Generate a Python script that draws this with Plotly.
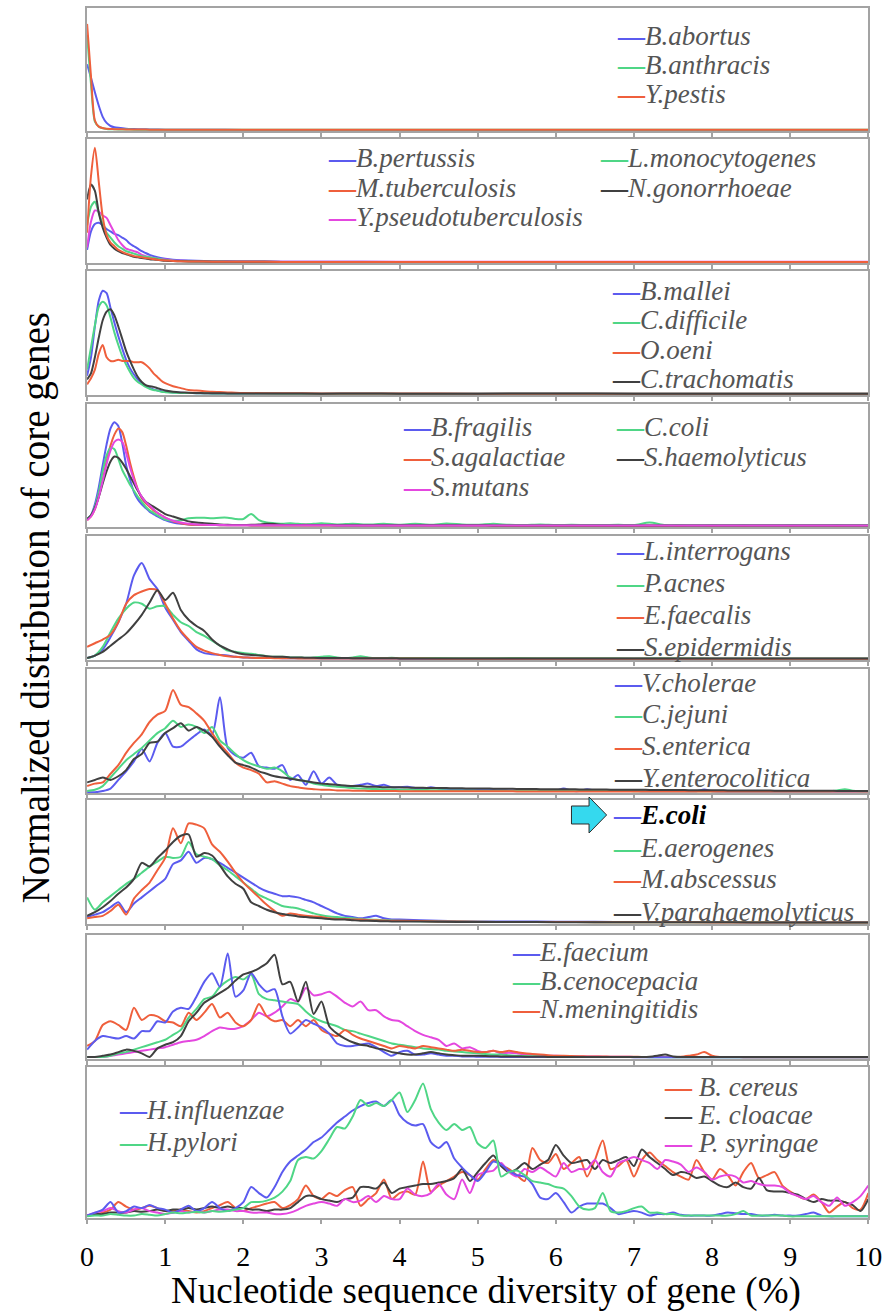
import plotly.graph_objects as go

# ---------------------------------------------------------------- data ----
# x grids (nucleotide sequence diversity, %)
X_P1 = [0, 0.05, 0.1, 0.15, 0.2, 0.25, 0.3, 0.35, 0.4, 0.5, 0.6, 0.7, 0.8, 1.0, 1.5,
        2, 3, 4, 5, 6, 7, 8, 9, 10]
X_P2 = [0, 0.05, 0.1, 0.15, 0.2, 0.25, 0.3, 0.35, 0.4, 0.45, 0.5, 0.55, 0.6, 0.65, 0.7,
        0.75, 0.8, 0.9, 1.0, 1.1, 1.2, 1.4, 1.6, 1.8, 2, 2.5, 3, 4, 5, 6, 7, 8, 9, 10]
X_P3 = [0, 0.05, 0.1, 0.15, 0.2, 0.25, 0.3, 0.35, 0.4, 0.45, 0.5, 0.55, 0.6, 0.65, 0.7,
        0.75, 0.8, 0.85, 0.9, 0.95, 1.0, 1.1, 1.2, 1.3, 1.4, 1.5, 1.6, 1.7, 1.8, 1.9,
        2.0, 2.5, 3, 3.5, 4, 5, 6, 7, 8, 9, 10]
X_P4 = ([round(0.05 * i, 2) for i in range(21)] + [round(1.0 + 0.1 * i, 1) for i in range(1, 21)]
        + [round(3.0 + 0.2 * i, 1) for i in range(1, 36)])
X_P5 = [round(0.1 * i, 1) for i in range(41)] + [4.5, 5.0, 5.5, 6.0, 6.5, 7.0, 7.5, 8.0,
                                                 8.5, 9.0, 9.25, 9.5, 10.0]
X_FULL = [round(0.1 * i, 1) for i in range(101)]

# panel 1
B_ABORTUS = [0.54, 0.43, 0.31, 0.20, 0.11, 0.06, 0.035, 0.025, 0.02, 0.013, 0.01, 0.008, 0.007,
             0.005, 0.004, 0.003, 0.003, 0.003, 0.003, 0.003, 0.003, 0.003, 0.003, 0.003]
B_ANTHRACIS = [0.78, 0.38, 0.07, 0.03, 0.016, 0.011, 0.009, 0.008, 0.007, 0.006, 0.005, 0.005,
               0.004, 0.004, 0.004, 0.004, 0.004, 0.004, 0.004, 0.004, 0.004, 0.004, 0.004, 0.004]
Y_PESTIS = [0.87, 0.44, 0.08, 0.03, 0.018, 0.012, 0.01, 0.009, 0.008, 0.007, 0.006, 0.006,
            0.005, 0.005, 0.005, 0.005, 0.005, 0.005, 0.005, 0.005, 0.005, 0.005, 0.005, 0.005]

# panel 2
B_PERTUSSIS = [0.10, 0.25, 0.31, 0.32, 0.30, 0.27, 0.25, 0.23, 0.22, 0.20, 0.18, 0.15, 0.13,
               0.11, 0.09, 0.075, 0.06, 0.04, 0.028, 0.02, 0.016, 0.012, 0.01, 0.008, 0.006,
               0.005, 0.004, 0.003, 0.003, 0.003, 0.003, 0.003, 0.003, 0.003]
M_TUBERCULOSIS = [0.24, 0.70, 0.93, 0.65, 0.37, 0.22, 0.16, 0.13, 0.10, 0.085, 0.07, 0.06, 0.05,
                  0.045, 0.04, 0.035, 0.03, 0.02, 0.015, 0.01, 0.008, 0.006, 0.005, 0.004, 0.004,
                  0.003, 0.003, 0.003, 0.003, 0.003, 0.003, 0.003, 0.003, 0.003]
Y_PSEUDOTUBERCULOSIS = [0.12, 0.33, 0.42, 0.41, 0.38, 0.36, 0.30, 0.24, 0.18, 0.14, 0.11, 0.10,
                        0.09, 0.08, 0.06, 0.05, 0.04, 0.03, 0.022, 0.015, 0.012, 0.01, 0.008,
                        0.007, 0.006, 0.005, 0.005, 0.005, 0.005, 0.005, 0.005, 0.005, 0.005, 0.005]
L_MONOCYTOGENES = [0.30, 0.45, 0.49, 0.40, 0.31, 0.24, 0.20, 0.16, 0.13, 0.11, 0.09, 0.08, 0.07,
                   0.06, 0.05, 0.045, 0.04, 0.03, 0.018, 0.012, 0.01, 0.007, 0.006, 0.005, 0.004,
                   0.003, 0.003, 0.003, 0.003, 0.003, 0.003, 0.003, 0.003, 0.003]
N_GONORRHOEAE = [0.51, 0.63, 0.58, 0.40, 0.28, 0.20, 0.14, 0.11, 0.09, 0.075, 0.065, 0.055, 0.045,
                 0.04, 0.035, 0.03, 0.025, 0.02, 0.012, 0.01, 0.008, 0.006, 0.005, 0.004, 0.004,
                 0.003, 0.003, 0.003, 0.003, 0.003, 0.003, 0.003, 0.003, 0.003]

# panel 3
B_MALLEI = [0.15, 0.30, 0.55, 0.76, 0.84, 0.82, 0.70, 0.58, 0.47, 0.37, 0.28, 0.21, 0.16, 0.12,
            0.09, 0.07, 0.05, 0.04, 0.03, 0.025, 0.02,
            0.015, 0.012, 0.01, 0.009, 0.008, 0.007, 0.007, 0.006, 0.006, 0.006,
            0.005, 0.005, 0.005, 0.005, 0.004, 0.004, 0.004, 0.004, 0.004, 0.004]
C_DIFFICILE = [0.20, 0.38, 0.56, 0.71, 0.75, 0.72, 0.62, 0.50, 0.40, 0.31, 0.24, 0.18, 0.13, 0.10,
               0.08, 0.06, 0.045, 0.035, 0.03, 0.02, 0.017,
               0.013, 0.011, 0.01, 0.009, 0.008, 0.007, 0.007, 0.006, 0.006, 0.006,
               0.005, 0.005, 0.005, 0.005, 0.004, 0.004, 0.004, 0.004, 0.004, 0.004]
O_OENI = [0.08, 0.13, 0.20, 0.33, 0.40, 0.30, 0.27, 0.27, 0.28, 0.27, 0.27, 0.27, 0.26, 0.26,
          0.26, 0.24, 0.21, 0.17, 0.14, 0.11, 0.09,
          0.065, 0.05, 0.035, 0.03, 0.025, 0.02, 0.018, 0.015, 0.012, 0.01,
          0.008, 0.007, 0.006, 0.006, 0.005, 0.005, 0.005, 0.005, 0.005, 0.005]
C_TRACHOMATIS = [0.12, 0.17, 0.30, 0.46, 0.60, 0.67, 0.69, 0.64, 0.55, 0.45, 0.35, 0.27, 0.20,
                 0.14, 0.10, 0.075, 0.065, 0.06, 0.05, 0.04, 0.03,
                 0.02, 0.015, 0.012, 0.01, 0.009, 0.008, 0.008, 0.007, 0.007, 0.006,
                 0.006, 0.005, 0.006, 0.005, 0.005, 0.006, 0.005, 0.005, 0.005, 0.005]

# panel 4
B_FRAGILIS = [0.06, 0.09, 0.18, 0.32, 0.50, 0.67, 0.80, 0.85, 0.82, 0.68, 0.50, 0.38, 0.28, 0.22,
              0.18, 0.15, 0.12, 0.10, 0.08, 0.065, 0.05,
              0.03, 0.02, 0.015, 0.012, 0.01, 0.01, 0.009, 0.008, 0.008, 0.008,
              0.007, 0.007, 0.007, 0.007, 0.007, 0.007, 0.006, 0.006, 0.006, 0.006,
              0.006, 0.006, 0.006, 0.006, 0.006, 0.006, 0.006, 0.006, 0.006, 0.006,
              0.005, 0.005, 0.005, 0.005, 0.005, 0.005, 0.005, 0.005, 0.005, 0.005,
              0.005, 0.005, 0.005, 0.005, 0.005, 0.005, 0.005, 0.005, 0.005, 0.005,
              0.005, 0.005, 0.005, 0.005, 0.005]
S_AGALACTIAE = [0.05, 0.08, 0.14, 0.25, 0.38, 0.53, 0.66, 0.75, 0.80, 0.77, 0.66, 0.52, 0.40,
                0.30, 0.23, 0.19, 0.16, 0.13, 0.11, 0.09, 0.07,
                0.04, 0.025, 0.015, 0.012, 0.01, 0.01, 0.009, 0.008, 0.008, 0.008,
                0.007, 0.007, 0.007, 0.007, 0.007, 0.007, 0.006, 0.006, 0.006, 0.006,
                0.006, 0.006, 0.006, 0.006, 0.006, 0.006, 0.006, 0.006, 0.006, 0.006,
                0.005, 0.005, 0.005, 0.005, 0.005, 0.005, 0.005, 0.005, 0.005, 0.005,
                0.005, 0.005, 0.005, 0.005, 0.005, 0.005, 0.005, 0.005, 0.005, 0.005,
                0.005, 0.005, 0.005, 0.005, 0.005]
S_MUTANS = [0.05, 0.08, 0.14, 0.24, 0.37, 0.51, 0.62, 0.69, 0.71, 0.69, 0.60, 0.48, 0.38, 0.30,
            0.24, 0.20, 0.17, 0.14, 0.11, 0.09, 0.07,
            0.045, 0.03, 0.02, 0.015, 0.012, 0.01, 0.01, 0.009, 0.009, 0.008,
            0.008, 0.008, 0.008, 0.008, 0.008, 0.008, 0.008, 0.008, 0.008, 0.008,
            0.007, 0.007, 0.007, 0.007, 0.007, 0.007, 0.007, 0.007, 0.007, 0.007,
            0.007, 0.007, 0.007, 0.007, 0.007, 0.007, 0.007, 0.007, 0.007, 0.007,
            0.007, 0.007, 0.007, 0.007, 0.007, 0.007, 0.007, 0.007, 0.007, 0.007,
            0.007, 0.007, 0.007, 0.007, 0.007]
C_COLI = [0.06, 0.09, 0.16, 0.28, 0.45, 0.58, 0.64, 0.63, 0.55, 0.46, 0.40, 0.34, 0.29, 0.24,
          0.20, 0.16, 0.13, 0.11, 0.09, 0.07, 0.055,
          0.045, 0.05, 0.065, 0.07, 0.07, 0.065, 0.07, 0.07, 0.06, 0.06,
          0.10, 0.05, 0.03, 0.025, 0.02, 0.025, 0.02, 0.015, 0.02, 0.025,
          0.015, 0.02, 0.015, 0.02, 0.012, 0.02, 0.012, 0.022, 0.015, 0.012,
          0.02, 0.012, 0.01, 0.015, 0.01, 0.012, 0.01, 0.01, 0.012, 0.01,
          0.03, 0.01, 0.01, 0.008, 0.01, 0.008, 0.01, 0.008, 0.008, 0.01,
          0.008, 0.008, 0.01, 0.008, 0.008]
S_HAEMOLYTICUS = [0.06, 0.09, 0.15, 0.24, 0.35, 0.45, 0.53, 0.57, 0.56, 0.52, 0.47, 0.41, 0.35,
                  0.29, 0.24, 0.20, 0.18, 0.16, 0.14, 0.12, 0.10,
                  0.08, 0.06, 0.04, 0.03, 0.025, 0.02, 0.015, 0.012, 0.01, 0.01,
                  0.012, 0.015, 0.02, 0.018, 0.012, 0.01, 0.01, 0.012, 0.01, 0.01,
                  0.009, 0.009, 0.009, 0.008, 0.008, 0.008, 0.008, 0.008, 0.008, 0.008,
                  0.007, 0.007, 0.007, 0.007, 0.007, 0.007, 0.007, 0.007, 0.007, 0.007,
                  0.006, 0.006, 0.006, 0.006, 0.006, 0.006, 0.006, 0.006, 0.006, 0.006,
                  0.006, 0.006, 0.006, 0.006, 0.006]

# panel 5 (0 .. 4 in steps of 0.1, then 4.5 .. 10)
L_INTERROGANS = [0.01, 0.03, 0.08, 0.18, 0.30, 0.45, 0.68, 0.78, 0.65, 0.57,
                 0.42, 0.32, 0.22, 0.15, 0.08, 0.05, 0.04, 0.035, 0.03, 0.02,
                 0.015, 0.012, 0.01, 0.01, 0.01, 0.009, 0.009, 0.008, 0.008, 0.008,
                 0.007, 0.007, 0.007, 0.007, 0.006, 0.006, 0.006, 0.006, 0.006, 0.006,
                 0.005,
                 0.005, 0.005, 0.005, 0.005, 0.005, 0.005, 0.005, 0.005, 0.005, 0.005, 0.005, 0.005,
                 0.005]
P_ACNES = [0.01, 0.03, 0.10, 0.22, 0.33, 0.41, 0.46, 0.45, 0.41, 0.43,
           0.43, 0.36, 0.30, 0.27, 0.22, 0.19, 0.15, 0.11, 0.07, 0.06,
           0.05, 0.045, 0.035, 0.025, 0.02, 0.02, 0.015, 0.015, 0.012, 0.015,
           0.02, 0.025, 0.015, 0.01, 0.015, 0.025, 0.015, 0.01, 0.01, 0.012,
           0.01,
           0.01, 0.008, 0.01, 0.008, 0.008, 0.007, 0.008, 0.007, 0.007, 0.006, 0.006, 0.006,
           0.006]
E_FAECALIS = [0.10, 0.13, 0.16, 0.20, 0.30, 0.45, 0.52, 0.55, 0.57, 0.56,
              0.45, 0.33, 0.23, 0.16, 0.10, 0.07, 0.05, 0.035, 0.025, 0.02,
              0.015, 0.012, 0.01, 0.01, 0.009, 0.008, 0.008, 0.007, 0.007, 0.007,
              0.006, 0.006, 0.006, 0.006, 0.006, 0.006, 0.006, 0.006, 0.006, 0.006,
              0.006,
              0.005, 0.005, 0.005, 0.005, 0.005, 0.005, 0.005, 0.005, 0.005, 0.005, 0.005, 0.005,
              0.005]
S_EPIDERMIDIS = [0.01, 0.03, 0.06, 0.11, 0.16, 0.21, 0.28, 0.36, 0.46, 0.56,
                 0.48, 0.54, 0.40, 0.32, 0.27, 0.23, 0.16, 0.11, 0.08, 0.055,
                 0.04, 0.035, 0.03, 0.025, 0.02, 0.02, 0.015, 0.015, 0.012, 0.012,
                 0.01, 0.01, 0.01, 0.01, 0.009, 0.009, 0.008, 0.008, 0.008, 0.008,
                 0.007,
                 0.007, 0.007, 0.006, 0.006, 0.006, 0.006, 0.006, 0.006, 0.006, 0.006, 0.006, 0.006,
                 0.006]

# panel 6 (0 .. 10 in steps of 0.1)
V_CHOLERAE = [0.0, 0.0, 0.01, 0.03, 0.10, 0.17, 0.25, 0.35, 0.25, 0.40,
              0.48, 0.37, 0.37, 0.42, 0.47, 0.51, 0.47, 0.77, 0.36, 0.30,
              0.28, 0.32, 0.21, 0.20, 0.19, 0.22, 0.10, 0.14, 0.06, 0.17,
              0.07, 0.12, 0.06, 0.05, 0.05, 0.06, 0.07, 0.05, 0.06, 0.04,
              0.04, 0.045, 0.035, 0.03, 0.04, 0.03, 0.025, 0.025, 0.02, 0.02,
              0.02, 0.018, 0.018, 0.016, 0.015, 0.015, 0.015, 0.014, 0.013, 0.013,
              0.012, 0.03, 0.012, 0.01, 0.025, 0.012, 0.01, 0.01, 0.01, 0.01,
              0.01, 0.009, 0.009, 0.009, 0.009, 0.008, 0.008, 0.008, 0.008, 0.022,
              0.008, 0.007, 0.007, 0.007, 0.007, 0.007, 0.007, 0.006, 0.006, 0.006,
              0.006, 0.006, 0.006, 0.006, 0.006, 0.006, 0.006, 0.006, 0.006, 0.006,
              0.006]
C_JEJUNI = [0.01, 0.02, 0.05, 0.12, 0.19, 0.26, 0.31, 0.36, 0.42, 0.48,
            0.52, 0.58, 0.53, 0.55, 0.53, 0.48, 0.53, 0.42, 0.37, 0.31,
            0.26, 0.23, 0.21, 0.19, 0.20, 0.17, 0.12, 0.10, 0.09, 0.07,
            0.06, 0.05, 0.045, 0.04, 0.035, 0.03, 0.028, 0.026, 0.024, 0.022,
            0.02, 0.02, 0.019, 0.018, 0.017, 0.016, 0.015, 0.015, 0.014, 0.014,
            0.013, 0.013, 0.012, 0.012, 0.011, 0.011, 0.01, 0.01, 0.01, 0.01,
            0.01, 0.01, 0.01, 0.01, 0.01, 0.01, 0.01, 0.01, 0.01, 0.01,
            0.009, 0.009, 0.009, 0.009, 0.009, 0.009, 0.009, 0.009, 0.009, 0.009,
            0.009, 0.009, 0.009, 0.009, 0.009, 0.009, 0.009, 0.009, 0.009, 0.009,
            0.008, 0.008, 0.008, 0.008, 0.008, 0.008, 0.015, 0.025, 0.012, 0.008,
            0.008]
S_ENTERICA = [0.05, 0.07, 0.08, 0.15, 0.22, 0.32, 0.40, 0.47, 0.57, 0.63,
              0.66, 0.83, 0.71, 0.69, 0.64, 0.58, 0.48, 0.39, 0.32, 0.24,
              0.20, 0.18, 0.15, 0.08, 0.09, 0.07, 0.05, 0.04, 0.03, 0.025,
              0.02, 0.02, 0.015, 0.014, 0.013, 0.012, 0.011, 0.01, 0.01, 0.01,
              0.009, 0.009, 0.009, 0.009, 0.009, 0.008, 0.008, 0.008, 0.008, 0.008,
              0.008, 0.008, 0.008, 0.008, 0.008, 0.007, 0.007, 0.007, 0.007, 0.007,
              0.007, 0.007, 0.007, 0.007, 0.007, 0.007, 0.007, 0.007, 0.007, 0.007,
              0.006, 0.006, 0.006, 0.006, 0.006, 0.006, 0.006, 0.006, 0.006, 0.006,
              0.006, 0.006, 0.006, 0.006, 0.006, 0.006, 0.006, 0.006, 0.006, 0.006,
              0.006, 0.006, 0.006, 0.006, 0.006, 0.006, 0.006, 0.006, 0.006, 0.006,
              0.006]
Y_ENTEROCOLITICA = [0.08, 0.10, 0.12, 0.10, 0.13, 0.18, 0.27, 0.31, 0.40, 0.41,
                    0.48, 0.52, 0.56, 0.50, 0.53, 0.50, 0.45, 0.37, 0.30, 0.24,
                    0.22, 0.20, 0.17, 0.15, 0.13, 0.12, 0.11, 0.10, 0.09, 0.08,
                    0.07, 0.065, 0.06, 0.055, 0.05, 0.05, 0.045, 0.045, 0.04, 0.04,
                    0.04, 0.038, 0.037, 0.036, 0.035, 0.035, 0.034, 0.033, 0.032, 0.031,
                    0.03, 0.03, 0.029, 0.028, 0.028, 0.027, 0.026, 0.026, 0.025, 0.025,
                    0.025, 0.024, 0.024, 0.023, 0.023, 0.022, 0.022, 0.021, 0.021, 0.02,
                    0.02, 0.02, 0.019, 0.019, 0.018, 0.018, 0.018, 0.017, 0.017, 0.016,
                    0.016, 0.016, 0.015, 0.015, 0.015, 0.014, 0.014, 0.014, 0.013, 0.013,
                    0.013, 0.013, 0.012, 0.012, 0.012, 0.012, 0.011, 0.011, 0.011, 0.011,
                    0.01]

# panel 7 (0 .. 4 in steps of 0.1, then 4.5 .. 10)
E_COLI = [0.05, 0.07, 0.09, 0.13, 0.17, 0.09, 0.16, 0.21, 0.26, 0.31,
          0.36, 0.48, 0.51, 0.58, 0.49, 0.53, 0.52, 0.49, 0.45, 0.41,
          0.37, 0.33, 0.29, 0.26, 0.24, 0.22, 0.22, 0.21, 0.19, 0.17,
          0.14, 0.11, 0.08, 0.06, 0.05, 0.04, 0.05, 0.06, 0.04, 0.03,
          0.03,
          0.02, 0.015, 0.015, 0.012, 0.012, 0.01, 0.01, 0.01, 0.009, 0.009, 0.008, 0.008,
          0.008]
E_AEROGENES = [0.21, 0.11, 0.17, 0.22, 0.27, 0.32, 0.36, 0.41, 0.46, 0.50,
               0.54, 0.53, 0.54, 0.66, 0.56, 0.54, 0.52, 0.47, 0.43, 0.38,
               0.33, 0.28, 0.23, 0.20, 0.17, 0.14, 0.13, 0.12, 0.10, 0.08,
               0.065, 0.055, 0.05, 0.045, 0.04, 0.035, 0.03, 0.028, 0.025, 0.022,
               0.02,
               0.015, 0.012, 0.01, 0.01, 0.009, 0.009, 0.008, 0.008, 0.008, 0.007, 0.007, 0.007,
               0.007]
M_ABSCESSUS = [0.04, 0.05, 0.06, 0.10, 0.15, 0.07, 0.20, 0.27, 0.33, 0.43,
               0.53, 0.77, 0.65, 0.81, 0.80, 0.77, 0.64, 0.58, 0.50, 0.41,
               0.33, 0.27, 0.21, 0.15, 0.10, 0.06, 0.08, 0.07, 0.06, 0.055,
               0.05, 0.04, 0.035, 0.035, 0.03, 0.03, 0.025, 0.025, 0.022, 0.02,
               0.02,
               0.015, 0.012, 0.01, 0.01, 0.009, 0.008, 0.008, 0.007, 0.007, 0.006, 0.006, 0.006,
               0.006]
V_PARAHAEMOLYTICUS = [0.06, 0.09, 0.13, 0.18, 0.24, 0.29, 0.36, 0.49, 0.46, 0.53,
                      0.59, 0.66, 0.71, 0.72, 0.54, 0.57, 0.55, 0.47, 0.38, 0.32,
                      0.28, 0.17, 0.14, 0.11, 0.09, 0.075, 0.065, 0.055, 0.05, 0.045,
                      0.04, 0.035, 0.03, 0.03, 0.025, 0.02, 0.02, 0.018, 0.016, 0.015,
                      0.015,
                      0.012, 0.01, 0.01, 0.009, 0.009, 0.008, 0.008, 0.008, 0.007, 0.007, 0.007,
                      0.007, 0.007]

# panel 8 (0 .. 10 in steps of 0.1)
E_FAECIUM = [0.07, 0.14, 0.18, 0.17, 0.16, 0.18, 0.16, 0.22, 0.22, 0.30,
             0.29, 0.38, 0.41, 0.40, 0.50, 0.62, 0.69, 0.58, 0.85, 0.50,
             0.55, 0.69, 0.60, 0.54, 0.56, 0.34, 0.20, 0.25, 0.31, 0.28,
             0.25, 0.20, 0.12, 0.10, 0.10, 0.11, 0.12, 0.09, 0.05, 0.02,
             0.05, 0.06, 0.03, 0.03, 0.04, 0.03, 0.02, 0.02, 0.015, 0.015,
             0.012, 0.012, 0.012, 0.011, 0.011, 0.011, 0.01, 0.01, 0.01, 0.01,
             0.01, 0.01, 0.01, 0.01, 0.01, 0.01, 0.01, 0.01, 0.01, 0.01,
             0.009, 0.009, 0.009, 0.009, 0.009, 0.009, 0.009, 0.009, 0.009, 0.009,
             0.008, 0.008, 0.008, 0.008, 0.008, 0.008, 0.008, 0.008, 0.008, 0.008,
             0.008, 0.008, 0.008, 0.008, 0.008, 0.008, 0.008, 0.008, 0.008, 0.008,
             0.008]
B_CENOCEPACIA = [0.01, 0.01, 0.01, 0.02, 0.04, 0.05, 0.07, 0.09, 0.11, 0.13,
                 0.15, 0.19, 0.23, 0.33, 0.40, 0.48, 0.50, 0.58, 0.63, 0.66,
                 0.64, 0.68, 0.52, 0.48, 0.47, 0.46, 0.45, 0.44, 0.38, 0.33,
                 0.30, 0.28, 0.26, 0.23, 0.22, 0.20, 0.18, 0.16, 0.14, 0.12,
                 0.11, 0.10, 0.09, 0.08, 0.075, 0.07, 0.06, 0.055, 0.05, 0.045,
                 0.04, 0.035, 0.03, 0.03, 0.025, 0.02, 0.018, 0.016, 0.015, 0.014,
                 0.012, 0.012, 0.012, 0.011, 0.011, 0.011, 0.01, 0.01, 0.01, 0.01,
                 0.01, 0.01, 0.009, 0.009, 0.009, 0.009, 0.009, 0.009, 0.009, 0.009,
                 0.009, 0.009, 0.008, 0.008, 0.008, 0.008, 0.008, 0.008, 0.008, 0.008,
                 0.008, 0.008, 0.008, 0.008, 0.008, 0.008, 0.008, 0.008, 0.008, 0.008,
                 0.008]
N_MENINGITIDIS = [0.10, 0.14, 0.27, 0.30, 0.27, 0.23, 0.41, 0.31, 0.35, 0.34,
                  0.30, 0.29, 0.26, 0.37, 0.31, 0.37, 0.44, 0.33, 0.37, 0.29,
                  0.26, 0.31, 0.44, 0.34, 0.30, 0.31, 0.26, 0.31, 0.26, 0.31,
                  0.23, 0.20, 0.18, 0.23, 0.19, 0.16, 0.14, 0.12, 0.10, 0.08,
                  0.10, 0.09, 0.08, 0.10, 0.09, 0.08, 0.07, 0.06, 0.07, 0.06,
                  0.05, 0.05, 0.06, 0.05, 0.06, 0.05, 0.04, 0.035, 0.03, 0.025,
                  0.02, 0.02, 0.018, 0.016, 0.015, 0.015, 0.014, 0.013, 0.012, 0.012,
                  0.012, 0.011, 0.011, 0.01, 0.01, 0.01, 0.012, 0.02, 0.03, 0.05,
                  0.02, 0.01, 0.01, 0.01, 0.009, 0.009, 0.009, 0.008, 0.008, 0.008,
                  0.008, 0.008, 0.008, 0.008, 0.008, 0.008, 0.008, 0.008, 0.008, 0.008,
                  0.008]
P8_EXTRA_BLACK = [0.01, 0.01, 0.02, 0.03, 0.05, 0.07, 0.06, 0.04, 0.01, 0.08,
                  0.11, 0.13, 0.18, 0.30, 0.37, 0.45, 0.49, 0.53, 0.57, 0.63,
                  0.68, 0.70, 0.73, 0.77, 0.84, 0.60, 0.62, 0.46, 0.62, 0.36,
                  0.46, 0.26, 0.20, 0.16, 0.13, 0.11, 0.10, 0.08, 0.07, 0.05,
                  0.04, 0.03, 0.03, 0.04, 0.05, 0.04, 0.03, 0.025, 0.02, 0.02,
                  0.02, 0.018, 0.016, 0.015, 0.015, 0.014, 0.013, 0.012, 0.012, 0.011,
                  0.011, 0.01, 0.01, 0.01, 0.01, 0.01, 0.01, 0.01, 0.01, 0.01,
                  0.01, 0.01, 0.012, 0.02, 0.03, 0.015, 0.01, 0.01, 0.01, 0.01,
                  0.01, 0.01, 0.01, 0.01, 0.01, 0.01, 0.01, 0.01, 0.01, 0.01,
                  0.01, 0.01, 0.01, 0.01, 0.01, 0.01, 0.01, 0.01, 0.01, 0.01,
                  0.01]
P8_EXTRA_MAGENTA = [0.01, 0.01, 0.01, 0.02, 0.03, 0.04, 0.05, 0.06, 0.07, 0.08,
                    0.09, 0.11, 0.13, 0.14, 0.15, 0.18, 0.22, 0.25, 0.24, 0.24,
                    0.26, 0.31, 0.37, 0.34, 0.37, 0.42, 0.48, 0.46, 0.57, 0.51,
                    0.52, 0.54, 0.50, 0.45, 0.42, 0.46, 0.39, 0.39, 0.34, 0.31,
                    0.30, 0.26, 0.22, 0.19, 0.17, 0.15, 0.10, 0.12, 0.08, 0.09,
                    0.06, 0.05, 0.06, 0.04, 0.045, 0.04, 0.03, 0.03, 0.025, 0.02,
                    0.02, 0.018, 0.016, 0.015, 0.015, 0.014, 0.013, 0.012, 0.012, 0.012,
                    0.011, 0.011, 0.011, 0.011, 0.01, 0.01, 0.01, 0.01, 0.01, 0.01,
                    0.01, 0.01, 0.01, 0.01, 0.01, 0.01, 0.01, 0.01, 0.01, 0.01,
                    0.01, 0.01, 0.01, 0.01, 0.01, 0.01, 0.01, 0.01, 0.01, 0.01,
                    0.01]

# panel 9 (0 .. 10 in steps of 0.1)
H_INFLUENZAE = [0.01, 0.03, 0.05, 0.10, 0.03, 0.04, 0.07, 0.06, 0.08, 0.06,
                0.05, 0.03, 0.05, 0.075, 0.04, 0.06, 0.10, 0.06, 0.04, 0.06,
                0.10, 0.20, 0.16, 0.13, 0.20, 0.30, 0.37, 0.41, 0.45, 0.50,
                0.53, 0.58, 0.63, 0.67, 0.71, 0.74, 0.76, 0.77, 0.74, 0.78,
                0.68, 0.63, 0.61, 0.62, 0.50, 0.46, 0.50, 0.39, 0.33, 0.28,
                0.24, 0.30, 0.37, 0.35, 0.31, 0.28, 0.27, 0.22, 0.13, 0.12,
                0.16, 0.10, 0.03, 0.07, 0.09, 0.09, 0.09, 0.06, 0.02, 0.03,
                0.04, 0.03, 0.01, 0.02, 0.02, 0.03, 0.015, 0.01, 0.01, 0.01,
                0.01, 0.02, 0.03, 0.025, 0.02, 0.02, 0.01, 0.01, 0.015, 0.01,
                0.01, 0.01, 0.02, 0.03, 0.01, 0.005, 0.005, 0.005, 0.005, 0.005,
                0.005]
H_PYLORI = [0.005, 0.01, 0.01, 0.02, 0.015, 0.01, 0.01, 0.02, 0.015, 0.01,
            0.02, 0.03, 0.025, 0.03, 0.035, 0.03, 0.04, 0.035, 0.04, 0.05,
            0.06, 0.10, 0.10, 0.11, 0.13, 0.17, 0.24, 0.38, 0.40, 0.39,
            0.44, 0.52, 0.60, 0.59, 0.67, 0.78, 0.74, 0.76, 0.74, 0.78,
            0.83, 0.70, 0.78, 0.89, 0.72, 0.63, 0.58, 0.62, 0.58, 0.60,
            0.49, 0.46, 0.51, 0.27, 0.30, 0.31, 0.28, 0.24, 0.23, 0.22,
            0.20, 0.19, 0.14, 0.07, 0.05, 0.06, 0.16, 0.04, 0.03, 0.04,
            0.06, 0.07, 0.03, 0.03, 0.02, 0.02, 0.01, 0.01, 0.01, 0.01,
            0.01, 0.01, 0.01, 0.02, 0.04, 0.01, 0.01, 0.01, 0.01, 0.01,
            0.005, 0.005, 0.005, 0.005, 0.005, 0.005, 0.005, 0.005, 0.005, 0.005,
            0.005]
B_CEREUS = [0.01, 0.02, 0.03, 0.05, 0.10, 0.07, 0.05, 0.06, 0.075, 0.06,
            0.04, 0.04, 0.05, 0.04, 0.03, 0.04, 0.06, 0.08, 0.10, 0.06,
            0.04, 0.06, 0.075, 0.09, 0.10, 0.06, 0.08, 0.12, 0.21, 0.14,
            0.12, 0.16, 0.14, 0.18, 0.20, 0.075, 0.12, 0.16, 0.25, 0.12,
            0.16, 0.17, 0.15, 0.37, 0.17, 0.21, 0.24, 0.27, 0.30, 0.28,
            0.25, 0.32, 0.38, 0.35, 0.32, 0.28, 0.24, 0.46, 0.38, 0.36,
            0.42, 0.32, 0.36, 0.40, 0.27, 0.38, 0.51, 0.32, 0.34, 0.38,
            0.27, 0.38, 0.43, 0.38, 0.34, 0.30, 0.27, 0.25, 0.38, 0.30,
            0.25, 0.32, 0.28, 0.21, 0.30, 0.36, 0.26, 0.28, 0.30, 0.21,
            0.17, 0.14, 0.12, 0.15, 0.10, 0.03, 0.07, 0.10, 0.06, 0.05,
            0.16]
E_CLOACAE = [0.01, 0.02, 0.02, 0.03, 0.03, 0.03, 0.04, 0.035, 0.04, 0.05,
             0.04, 0.05, 0.05, 0.06, 0.05, 0.06, 0.07, 0.06, 0.07, 0.06,
             0.06, 0.05, 0.05, 0.04, 0.05, 0.05, 0.06, 0.10, 0.14, 0.14,
             0.12, 0.11, 0.10, 0.12, 0.13, 0.20, 0.20, 0.19, 0.23, 0.16,
             0.19, 0.20, 0.21, 0.22, 0.22, 0.23, 0.24, 0.26, 0.32, 0.24,
             0.30, 0.36, 0.41, 0.34, 0.30, 0.32, 0.36, 0.32, 0.35, 0.38,
             0.48, 0.41, 0.36, 0.37, 0.38, 0.32, 0.38, 0.36, 0.38, 0.40,
             0.34, 0.45, 0.40, 0.36, 0.32, 0.28, 0.30, 0.29, 0.26, 0.27,
             0.24, 0.21, 0.20, 0.23, 0.20, 0.19, 0.26, 0.18, 0.17, 0.17,
             0.16, 0.15, 0.12, 0.10, 0.12, 0.11, 0.11, 0.10, 0.08, 0.04,
             0.12]
P_SYRINGAE = [0.01, 0.03, 0.04, 0.06, 0.04, 0.03, 0.05, 0.06, 0.04, 0.03,
              0.02, 0.03, 0.04, 0.03, 0.04, 0.03, 0.04, 0.05, 0.05, 0.04,
              0.04, 0.03, 0.03, 0.03, 0.02, 0.02, 0.03, 0.05, 0.075, 0.09,
              0.10, 0.09, 0.075, 0.12, 0.10, 0.11, 0.14, 0.10, 0.14, 0.12,
              0.12, 0.19, 0.15, 0.14, 0.16, 0.22, 0.15, 0.12, 0.25, 0.16,
              0.28, 0.30, 0.31, 0.36, 0.30, 0.27, 0.32, 0.30, 0.33, 0.30,
              0.27, 0.36, 0.30, 0.32, 0.32, 0.38, 0.30, 0.27, 0.36, 0.38,
              0.40, 0.38, 0.36, 0.32, 0.38, 0.37, 0.35, 0.30, 0.33, 0.30,
              0.25, 0.27, 0.28, 0.27, 0.23, 0.24, 0.22, 0.21, 0.21, 0.20,
              0.16, 0.14, 0.12, 0.14, 0.10, 0.075, 0.13, 0.075, 0.10, 0.14,
              0.21]

# ---------------------------------------------------------------- style ---
BLUE = "#5b5bef"
GREEN = "#4fd686"
RED = "#ef5f3c"
BLACK = "#404040"
MAGENTA = "#e447df"
FRAME = "#a3a3a3"
LEGEND_TEXT = "#555555"
SERIF = "Liberation Serif, Times New Roman, serif"

W, H = 896, 1314
PLOT_LEFT, PLOT_RIGHT = 82, 882
# (top, bottom) pixel rows of each panel frame
PANEL_ROWS = [(8, 131), (139, 263), (271, 395), (404, 527), (536, 660),
              (669, 793), (800, 924), (935, 1059), (1067, 1218)]

# series per panel: (name, values, colour, legend position in px or None)
PANELS = [
    (X_P1, [("B.abortus", B_ABORTUS, BLUE, (623, 36)),
            ("B.anthracis", B_ANTHRACIS, GREEN, (623, 65)),
            ("Y.pestis", Y_PESTIS, RED, (623, 94))]),
    (X_P2, [("B.pertussis", B_PERTUSSIS, BLUE, (327, 158)),
            ("Y.pseudotuberculosis", Y_PSEUDOTUBERCULOSIS, MAGENTA, (327, 217)),
            ("L.monocytogenes", L_MONOCYTOGENES, GREEN, (605, 158)),
            ("N.gonorrhoeae", N_GONORRHOEAE, BLACK, (605, 188)),
            ("M.tuberculosis", M_TUBERCULOSIS, RED, (327, 188))]),
    (X_P3, [("B.mallei", B_MALLEI, BLUE, (617, 291)),
            ("C.difficile", C_DIFFICILE, GREEN, (617, 320)),
            ("O.oeni", O_OENI, RED, (617, 350)),
            ("C.trachomatis", C_TRACHOMATIS, BLACK, (617, 379))]),
    (X_P4, [("B.fragilis", B_FRAGILIS, BLUE, (403, 427)),
            ("S.agalactiae", S_AGALACTIAE, RED, (403, 457)),
            ("C.coli", C_COLI, GREEN, (622, 427)),
            ("S.haemolyticus", S_HAEMOLYTICUS, BLACK, (622, 457)),
            ("S.mutans", S_MUTANS, MAGENTA, (403, 487))]),
    (X_P5, [("L.interrogans", L_INTERROGANS, BLUE, (622, 551)),
            ("P.acnes", P_ACNES, GREEN, (622, 583)),
            ("E.faecalis", E_FAECALIS, RED, (622, 615)),
            ("S.epidermidis", S_EPIDERMIDIS, BLACK, (622, 647))]),
    (X_FULL, [("V.cholerae", V_CHOLERAE, BLUE, (620, 683)),
              ("C.jejuni", C_JEJUNI, GREEN, (620, 714)),
              ("S.enterica", S_ENTERICA, RED, (620, 746)),
              ("Y.enterocolitica", Y_ENTEROCOLITICA, BLACK, (620, 778))]),
    (X_P5, [("E.coli", E_COLI, BLUE, (618, 815)),
            ("E.aerogenes", E_AEROGENES, GREEN, (618, 848)),
            ("M.abscessus", M_ABSCESSUS, RED, (618, 879)),
            ("V.parahaemolyticus", V_PARAHAEMOLYTICUS, BLACK, (618, 912))]),
    (X_FULL, [("additional strain (magenta)", P8_EXTRA_MAGENTA, MAGENTA, None),
              ("B.cenocepacia", B_CENOCEPACIA, GREEN, (515, 981)),
              ("N.meningitidis", N_MENINGITIDIS, RED, (515, 1009)),
              ("E.faecium", E_FAECIUM, BLUE, (515, 952)),
              ("additional strain (black)", P8_EXTRA_BLACK, BLACK, None)]),
    (X_FULL, [("B. cereus", B_CEREUS, RED, (671, 1087)),
              ("E. cloacae", E_CLOACAE, BLACK, (671, 1115)),
              ("P. syringae", P_SYRINGAE, MAGENTA, (671, 1143)),
              ("H.influenzae", H_INFLUENZAE, BLUE, (113, 1110)),
              ("H.pylori", H_PYLORI, GREEN, (113, 1142))]),
]
HIGHLIGHT = "E.coli"
SPACED_LEGEND = {"B. cereus", "E. cloacae", "P. syringae"}


def paper_x(px):
    return px / W


def paper_y(py):
    return 1 - py / H


fig = go.Figure()
layout = dict(width=W, height=H, margin=dict(l=0, r=0, t=0, b=0),
              paper_bgcolor="white", plot_bgcolor="white", showlegend=False,
              font=dict(family=SERIF, color="black"))
annotations = []

for i, ((top, bottom), (xs, series)) in enumerate(zip(PANEL_ROWS, PANELS)):
    suffix = "" if i == 0 else str(i + 1)
    last = i == len(PANELS) - 1
    layout["xaxis" + suffix] = dict(
        domain=[paper_x(PLOT_LEFT), paper_x(PLOT_RIGHT)], range=[0, 10],
        anchor="y" + suffix, showline=True, mirror=True, linecolor=FRAME, linewidth=2,
        ticks="outside", ticklen=4, tickwidth=1.5, tickcolor=FRAME, tick0=0, dtick=1,
        showgrid=False, zeroline=False, showticklabels=last,
        tickfont=dict(family=SERIF, size=28, color="black"), ticklabelstandoff=8)
    layout["yaxis" + suffix] = dict(
        domain=[paper_y(bottom), paper_y(top)], range=[-0.006, 1.0],
        anchor="x" + suffix, showline=True, mirror=True, linecolor=FRAME, linewidth=2,
        ticks="", showticklabels=False, showgrid=False, zeroline=False)

    for name, values, color, legend_pos in series:
        assert len(values) == len(xs), (name, len(values), len(xs))
        fig.add_trace(go.Scatter(
            x=xs, y=values, name=name, mode="lines",
            line=dict(color=color, width=2, shape="spline", smoothing=0.7),
            xaxis="x" + suffix, yaxis="y" + suffix, hoverinfo="skip"))
        if legend_pos is None:
            continue
        if name == HIGHLIGHT:
            label = "<b><i>%s</i></b>" % name
            text_color = "black"
        else:
            label = "<i>%s</i>" % name
            text_color = LEGEND_TEXT
        dash = "— " if name in SPACED_LEGEND else "—"
        annotations.append(dict(
            x=paper_x(legend_pos[0]), y=paper_y(legend_pos[1]), xref="paper", yref="paper",
            xanchor="left", yanchor="middle", showarrow=False,
            text='<span style="color:%s"><b>%s</b></span>%s' % (color, dash, label),
            font=dict(family=SERIF, size=27, color=text_color)))

# axis titles
annotations.append(dict(
    x=paper_x(490), y=paper_y(1291), xref="paper", yref="paper", xanchor="center",
    yanchor="middle", showarrow=False, text="Nucleotide sequence diversity of gene (%)",
    font=dict(family=SERIF, size=37, color="black")))
annotations.append(dict(
    x=paper_x(30), y=paper_y(608), xref="paper", yref="paper", xanchor="center",
    yanchor="middle", showarrow=False, textangle=-90,
    text="Normalized distribution of core genes",
    font=dict(family=SERIF, size=39, color="black")))

# pointer next to the highlighted strain
ARROW_PX = [(578, 806), (596, 806), (596, 797), (614, 815), (596, 833), (596, 824), (578, 824)]
path = "M " + " L ".join("%.5f,%.5f" % (paper_x(a), paper_y(b)) for a, b in ARROW_PX) + " Z"
layout["shapes"] = [dict(type="path", xref="paper", yref="paper", path=path,
                         fillcolor="#35d9ee", line=dict(color="#2b2b2b", width=1))]
layout["annotations"] = annotations

fig.update_layout(**layout)
fig.write_html("out.html", config={"displayModeBar": False})
